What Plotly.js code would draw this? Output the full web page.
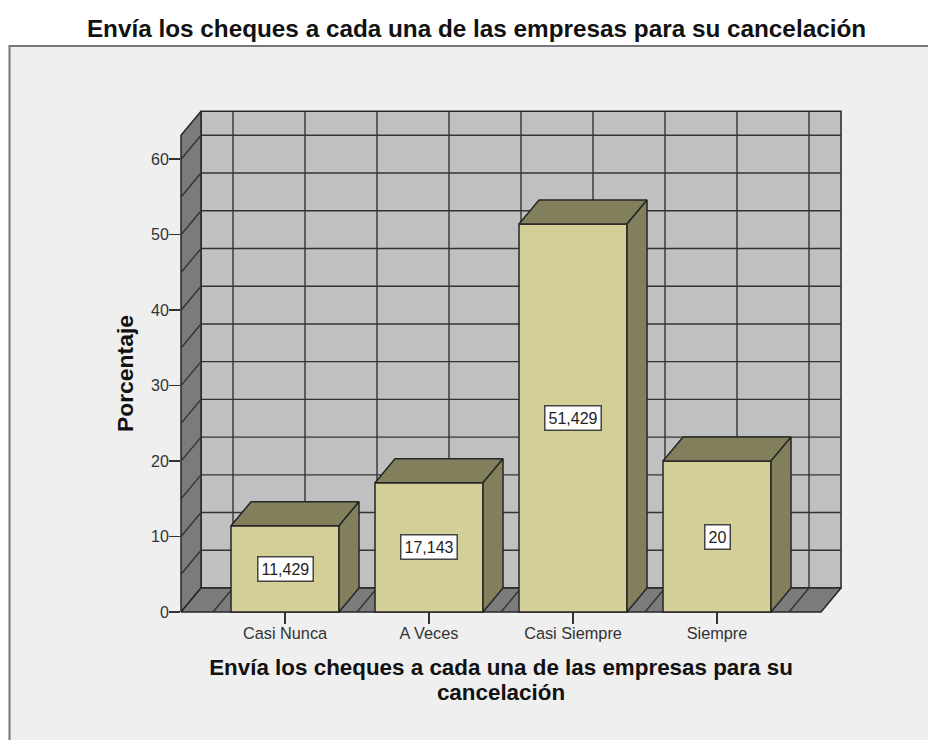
<!DOCTYPE html>
<html>
<head>
<meta charset="utf-8">
<script src="https://cdn.plot.ly/plotly-3.0.1.min.js"></script>
<style>html,body{margin:0;padding:0;background:#fff;overflow:hidden}</style>
</head>
<body>
<div id="chart" style="width:928px;height:740px"></div>
<script>
const categories = ["Casi Nunca", "A Veces", "Casi Siempre", "Siempre"];
const values = [11.429, 17.143, 51.429, 20];
const valueLabels = ["11,429", "17,143", "51,429", "20"];
const yTicks = [0, 10, 20, 30, 40, 50, 60];
const gridY = [5, 10, 15, 20, 25, 30, 35, 40, 45, 50, 55, 60];
const gridX = [-0.5, 0, 0.5, 1, 1.5, 2, 2.5, 3, 3.5];
const chartTitle = "Envía los cheques a cada una de las empresas para su cancelación";
const xTitle = "Envía los cheques a cada una de las empresas para su<br>cancelación";
const yTitle = "Porcentaje";

// visible (front) axes
const xRange = [-0.7222, 3.7222];
const yRange = [0, 63.2];
// wider drawing axes, same scale as the front axes, leaving room for the depth of the 3-D box
const xRangeBox = [-0.7431, 3.8819];
const yRangeBox = [-0.3976, 66.8];
const depthX = 0.139;
const depthY = 3.18;
const barWidth = 0.75;

const FONT = "Liberation Sans, Arial, sans-serif";
const INK = "#262626";
function shape3d(name, pts, fill, xa, ya){
  return {type:"scatter", mode:"lines", x:pts.map(p=>p[0]), y:pts.map(p=>p[1]), fill:"toself", fillcolor:fill,
    line:{color:INK, width:1.5}, hoverinfo:"skip", showlegend:false, name:name, xaxis:xa, yaxis:ya};
}
const [x0, x1] = xRange, [y0, y1] = yRange;
const traces = [];
traces.push({type:"scatter", mode:"markers", x:[0], y:[0], marker:{opacity:0, size:1}, hoverinfo:"skip", showlegend:false, name:"axes"});
// walls and floor
traces.push(shape3d("back wall", [[x0+depthX,depthY],[x1+depthX,depthY],[x1+depthX,y1+depthY],[x0+depthX,y1+depthY],[x0+depthX,depthY]], "#c0c0c0", "x2", "y2"));
traces.push(shape3d("left wall", [[x0,0],[x0+depthX,depthY],[x0+depthX,y1+depthY],[x0,y1],[x0,0]], "#7b7b7b", "x2", "y2"));
traces.push(shape3d("floor", [[x0,0],[x1,0],[x1+depthX,depthY],[x0+depthX,depthY],[x0,0]], "#7b7b7b", "x2", "y2"));
// grid
const gx = [], gy = [];
gridY.forEach(v => { gx.push(x0+depthX, x1+depthX, null); gy.push(v+depthY, v+depthY, null);
                     gx.push(x0, x0+depthX, null); gy.push(v, v+depthY, null); });
gridX.forEach(v => { gx.push(v+depthX, v+depthX, null); gy.push(depthY, y1+depthY, null);
                     gx.push(v, v+depthX, null); gy.push(0, depthY, null); });
traces.push({type:"scatter", mode:"lines", x:gx, y:gy, connectgaps:false, line:{color:"#333333", width:1.4},
  hoverinfo:"skip", showlegend:false, name:"grid", xaxis:"x2", yaxis:"y2"});
// bars
categories.forEach((c,i) => {
  const l = i-barWidth/2, r = i+barWidth/2, v = values[i];
  traces.push(shape3d(c+" top", [[l,v],[r,v],[r+depthX,v+depthY],[l+depthX,v+depthY],[l,v]], "#82805c", "x3", "y3"));
  traces.push(shape3d(c+" side", [[r,0],[r+depthX,depthY],[r+depthX,v+depthY],[r,v],[r,0]], "#82805c", "x3", "y3"));
});
traces.push({type:"bar", x:categories.map((c,i)=>i), y:values, width:barWidth, xaxis:"x3", yaxis:"y3",
  marker:{color:"#d3cf97", line:{color:INK, width:1.5}}, hoverinfo:"skip", showlegend:false, name:"Porcentaje"});

const annotations = categories.map((c,i) => ({
  x:i, y:values[i]/2, xref:"x", yref:"y", text:valueLabels[i], showarrow:false,
  font:{family:FONT, size:16, color:"#222"}, bgcolor:"#ffffff", bordercolor:"#444", borderwidth:1.5, borderpad:3
}));

const W = 666, H = 507; // drawing area: x 178..844, y 108..615
const layout = {
  width:928, height:740, autosize:false,
  margin:{l:178, r:84, t:108, b:125, pad:0},
  paper_bgcolor:"#ffffff", plot_bgcolor:"rgba(0,0,0,0)",
  showlegend:false, hovermode:false, barmode:"overlay",
  title:{text:"<b>"+chartTitle+"</b>", x:476.5/928, xref:"container", xanchor:"center", y:0.962, yanchor:"middle",
         font:{family:FONT, size:24.3, color:"#111"}},
  xaxis:{domain:[3/W, 643/W], anchor:"y", range:xRange, tickmode:"array", tickvals:categories.map((c,i)=>i), ticktext:categories, ticks:"outside",
    ticklen:11, tickwidth:1.5, tickcolor:"#333", showgrid:false, zeroline:false, showline:false,
    tickfont:{family:FONT, size:16.3, color:"#333"}, ticklabelstandoff:-5,
    title:{text:"<b>"+xTitle+"</b>", font:{family:FONT, size:22.4, color:"#111"}, standoff:18}},
  yaxis:{domain:[3/H, 480/H], anchor:"x", range:yRange, tickmode:"array", tickvals:yTicks, ticks:"outside", ticklen:11, tickwidth:1.5, tickcolor:"#333",
    showgrid:false, zeroline:false, showline:false,
    tickfont:{family:FONT, size:16, color:"#333"}, ticklabelstandoff:-3,
    title:{text:"<b>"+yTitle+"</b>", font:{family:FONT, size:22.9, color:"#111"}, standoff:10}},
  xaxis2:{domain:[0,1], anchor:"y2", range:xRangeBox, visible:false, fixedrange:true},
  yaxis2:{domain:[0,1], anchor:"x2", range:yRangeBox, visible:false, fixedrange:true},
  xaxis3:{overlaying:"x2", anchor:"y3", range:xRangeBox, visible:false, fixedrange:true},
  yaxis3:{overlaying:"y2", anchor:"x3", range:yRangeBox, visible:false, fixedrange:true},
  shapes:[{type:"rect", layer:"below", xref:"paper", yref:"paper",
    x0:(9.5-178)/W, x1:(950-178)/W, y0:(615-770)/H, y1:(615-46)/H,
    fillcolor:"#efefef", line:{color:"#777777", width:2}}],
  annotations:annotations
};
Plotly.newPlot("chart", traces, layout, {displayModeBar:false, staticPlot:true}).then(() => {
  // tighter line spacing of the two-line x title, as in the reference
  document.querySelectorAll(".xtitle tspan.line").forEach((t,i) => { if(i>0) t.setAttribute("dy","1.15em"); });
});
</script>
</body>
</html>
